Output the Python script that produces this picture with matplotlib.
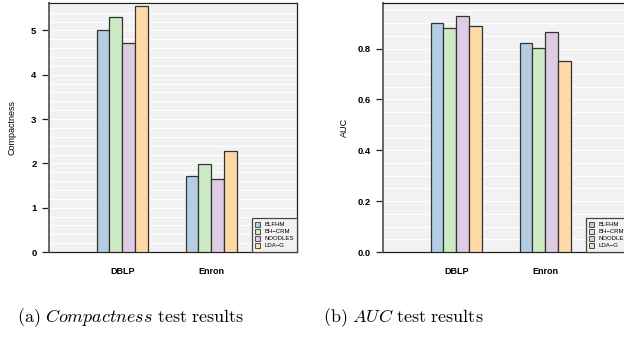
import matplotlib
matplotlib.use("Agg")
import matplotlib.pyplot as plt
import numpy as np
from matplotlib.ticker import MultipleLocator

plt.rcParams['font.family'] = ['Liberation Sans', 'DejaVu Sans']
plt.rcParams['mathtext.fontset'] = 'cm'

datasets = ["DBLP", "Enron"]
methods = ["BLFHM", "BH\u2212CRM", "NOODLES", "LDA\u2212G"]
colors = ["#b3cde3", "#ccebc5", "#decbe4", "#fed9a6"]

compactness = {
    "BLFHM":   [5.00, 1.71],
    "BH-CRM":  [5.30, 1.98],
    "NOODLES": [4.71, 1.65],
    "LDA-G":   [5.56, 2.28],
}
auc = {
    "BLFHM":   [0.899, 0.822],
    "BH-CRM":  [0.879, 0.802],
    "NOODLES": [0.929, 0.865],
    "LDA-G":   [0.889, 0.749],
}
keys = ["BLFHM", "BH-CRM", "NOODLES", "LDA-G"]

W, H = 624, 343
fig = plt.figure(figsize=(W / 100, H / 100), dpi=100)

def make_axes(left_px, data, ylim, yticks, yfmt, minor, ylabel, ylabel_x):
    ax = fig.add_axes([left_px / W, (H - 252) / H, 248 / W, 249 / H])
    ax.set_facecolor("#f2f2f2")
    x = np.arange(1, len(datasets) + 1)
    w = 0.143
    for i, k in enumerate(keys):
        ax.bar(x + (i - 1.5) * w, data[k], width=w, color=colors[i],
               edgecolor="#333333", linewidth=0.9, zorder=3,
               label=methods[i])
    ax.set_xlim(0.178, 2.964)
    ax.set_ylim(*ylim)
    ax.set_yticks(yticks)
    ax.set_yticklabels([yfmt.format(t) for t in yticks], fontsize=6.8,
                       fontweight="bold")
    ax.yaxis.set_minor_locator(MultipleLocator(minor))
    ax.grid(True, which="both", axis="y", color="white", linewidth=0.9,
            zorder=0)
    ax.set_axisbelow(True)
    ax.set_xticks(x)
    ax.set_xticklabels(datasets, fontsize=6.5, fontweight="bold")
    ax.tick_params(axis="x", length=0, pad=11)
    ax.tick_params(axis="y", which="major", length=5, width=0.9, pad=4,
                   direction="out", color="#222222")
    ax.tick_params(axis="y", which="minor", length=0)
    for s in ax.spines.values():
        s.set_color("#222222")
        s.set_linewidth(0.9)
    ax.spines["left"].set_color("#666666")
    ax.spines["left"].set_linewidth(1.4)
    ax.text(ylabel_x, 0.5, ylabel, transform=ax.transAxes, rotation=90,
            ha="center", va="center", fontsize=6.5)
    leg = ax.legend(loc="lower right", fontsize=4.3, frameon=True,
                    fancybox=False, edgecolor="#444444", facecolor="#f2f2f2",
                    framealpha=1, borderaxespad=0, handlelength=0.9,
                    handleheight=0.9, handletextpad=0.6, labelspacing=0.25,
                    borderpad=0.6)
    leg.get_frame().set_linewidth(0.9)
    for h in leg.legend_handles:
        h.set_linewidth(0.6)
    return ax

make_axes(49, compactness, (0, 5.62), [0, 1, 2, 3, 4, 5], "{:d}", 0.2,
          "Compactness", -37 / 248)
make_axes(383, auc, (0, 0.979), [0.0, 0.2, 0.4, 0.6, 0.8], "{:.1f}", 0.05,
          "AUC", -39 / 248)

fig.text(131 / W, 1 - 318 / H,
         r"$\mathrm{(a)}\ \mathit{Compactness}\ \mathrm{test\ results}$",
         ha="center", va="center", fontsize=13)
fig.text(403 / W, 1 - 318 / H,
         r"$\mathrm{(b)}\ \mathit{AUC}\ \mathrm{test\ results}$",
         ha="center", va="center", fontsize=13)

fig.savefig("out.png", dpi=100)
